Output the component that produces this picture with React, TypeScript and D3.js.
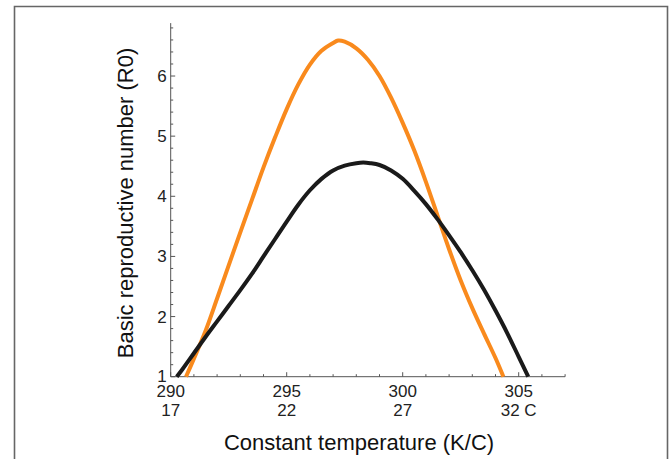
import React from "react";
import * as d3 from "d3";

const orangeT = [290.66, 291.0, 291.5, 292.0, 292.5, 293.0, 293.5, 294.0, 294.5, 295.0, 295.5, 296.0, 296.5, 297.0, 297.22, 297.5, 298.0, 298.5, 299.0, 299.5, 300.0, 300.5, 301.0, 301.5, 302.0, 302.5, 303.0, 303.5, 304.0, 304.34];
const orangeR = [1.0, 1.3, 1.76, 2.3, 2.85, 3.4, 3.94, 4.48, 4.98, 5.45, 5.86, 6.19, 6.42, 6.55, 6.59, 6.57, 6.46, 6.27, 6.0, 5.64, 5.22, 4.76, 4.24, 3.68, 3.12, 2.6, 2.14, 1.72, 1.31, 1.0];

const blackT = [290.26, 290.5, 291.0, 291.5, 292.0, 292.5, 293.0, 293.5, 294.0, 294.5, 295.0, 295.5, 296.0, 296.5, 297.0, 297.5, 298.0, 298.3, 298.6, 299.0, 299.5, 300.0, 300.5, 301.0, 301.5, 302.0, 302.5, 303.0, 303.5, 304.0, 304.5, 305.0, 305.41];
const blackR = [1.0, 1.12, 1.39, 1.66, 1.92, 2.18, 2.44, 2.71, 3.0, 3.29, 3.58, 3.86, 4.1, 4.29, 4.43, 4.51, 4.55, 4.56, 4.55, 4.52, 4.43, 4.29, 4.09, 3.87, 3.62, 3.35, 3.07, 2.77, 2.45, 2.1, 1.73, 1.33, 1.0];

const xMajorK = [290, 295, 300, 305];
const xMajorC = ["17", "22", "27", "32 C"];
const yMajor = [1, 2, 3, 4, 5, 6];

const xTitle = "Constant temperature (K/C)";
const yTitle = "Basic reproductive number (R0)";

const W = 669;
const H = 459;

export default function App() {
  const x = d3.scaleLinear().domain([290, 307]).range([170.7, 565.1]);
  const y = d3.scaleLinear().domain([1, 6.88]).range([376.7, 23.1]);

  const line = d3
    .line<[number, number]>()
    .x((d) => x(d[0]))
    .y((d) => y(d[1]))
    .curve(d3.curveCatmullRom.alpha(0.5));

  const orange = orangeT.map((t, i) => [t, orangeR[i]] as [number, number]);
  const black = blackT.map((t, i) => [t, blackR[i]] as [number, number]);

  const yMinor = d3.range(1, 6.881, 0.2).filter((v) => Math.abs(v - Math.round(v)) > 0.01);
  const xMinor = d3.range(290, 307.01, 1).filter((v) => v % 5 !== 0);

  const axisColor = "#555";
  const font = "'Liberation Sans', Arial, sans-serif";

  return (
    <svg
      width={W}
      height={H}
      style={{ position: "absolute", left: 0, top: 0, background: "#fff" }}
      fontFamily={font}
    >
      <rect x={0} y={0} width={W} height={H} fill="#fff" />
      <path
        d={`M14.5,${H + 5} L14.5,6.5 L667.5,6.5 L667.5,${H + 5}`}
        fill="none"
        stroke="#666"
        strokeWidth={1.6}
      />

      <line x1={x(290)} x2={x(290)} y1={y(1)} y2={y(6.88)} stroke={axisColor} strokeWidth={1} />
      <line x1={x(290)} x2={x(307)} y1={y(1)} y2={y(1)} stroke={axisColor} strokeWidth={1} />

      {yMinor.map((v, i) => (
        <line key={"ym" + i} x1={x(290)} x2={x(290) + 2.5} y1={y(v)} y2={y(v)} stroke={axisColor} strokeWidth={1} />
      ))}
      {yMajor.map((v) => (
        <g key={"yM" + v}>
          <line x1={x(290)} x2={x(290) + 4.5} y1={y(v)} y2={y(v)} stroke={axisColor} strokeWidth={1} />
          <text x={x(290) - 4} y={y(v)} dy={v === 1 ? "0.3em" : "0.35em"} textAnchor="end" fontSize={17} fill="#222">
            {v}
          </text>
        </g>
      ))}

      {xMinor.map((v, i) => (
        <line key={"xm" + i} x1={x(v)} x2={x(v)} y1={y(1)} y2={y(1) - 2.5} stroke={axisColor} strokeWidth={1} />
      ))}
      {xMajorK.map((v, i) => (
        <g key={"xM" + v}>
          <line x1={x(v)} x2={x(v)} y1={y(1)} y2={y(1) - 4.5} stroke={axisColor} strokeWidth={1} />
          <text x={x(v)} y={397} textAnchor="middle" fontSize={17} fill="#222">
            {v}
          </text>
          <text x={x(v)} y={416} textAnchor="middle" fontSize={17} fill="#222">
            {xMajorC[i]}
          </text>
        </g>
      ))}

      <path d={line(orange) || ""} fill="none" stroke="#F98A1D" strokeWidth={4} />
      <path d={line(black) || ""} fill="none" stroke="#1a1a1a" strokeWidth={4} />

      <text x={359} y={450} textAnchor="middle" fontSize={22} fill="#111">
        {xTitle}
      </text>
      <text transform={`translate(133,203) rotate(-90)`} textAnchor="middle" fontSize={22} fill="#111">
        {yTitle}
      </text>
    </svg>
  );
}
